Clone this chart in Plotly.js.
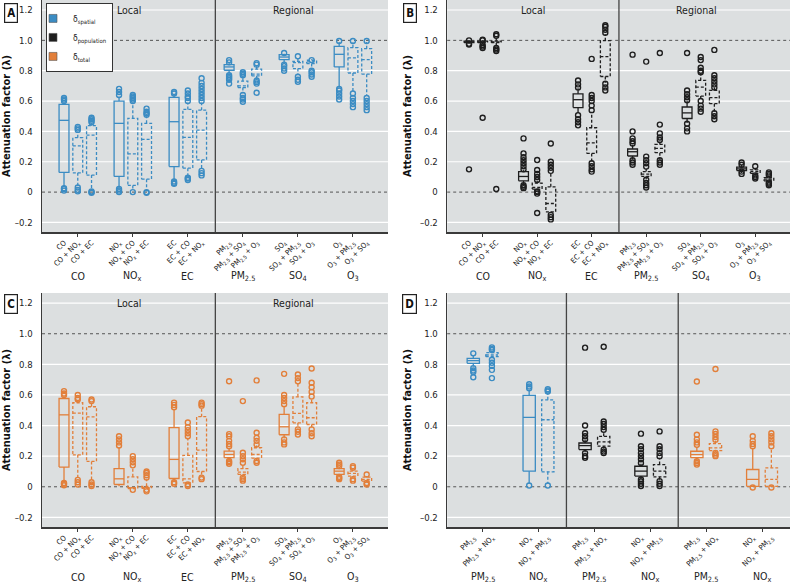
<!DOCTYPE html>
<html><head><meta charset="utf-8">
<script src="https://cdn.plot.ly/plotly-3.0.1.min.js"></script>
<style>html,body{margin:0;padding:0;background:#fff}#chart{width:800px;height:585px}</style>
</head><body><div id="chart"></div><script>
// ---------- DATA ----------
const boxLabels6 = ["CO","CO + NO<sub>x</sub>","CO + EC","NO<sub>x</sub>","NO<sub>x</sub> + CO","NO<sub>x</sub> + EC","EC","EC + CO","EC + NO<sub>x</sub>","PM<sub>2.5</sub>","PM<sub>2.5</sub> + SO<sub>4</sub>","PM<sub>2.5</sub> + O<sub>3</sub>","SO<sub>4</sub>","SO<sub>4</sub> + PM<sub>2.5</sub>","SO<sub>4</sub> + O<sub>3</sub>","O<sub>3</sub>","O<sub>3</sub> + PM<sub>2.5</sub>","O<sub>3</sub> + SO<sub>4</sub>"];
const groupLabels6 = ["CO","NO<sub>x</sub>","EC","PM<sub>2.5</sub>","SO<sub>4</sub>","O<sub>3</sub>"];
const boxLabelsD = ["PM<sub>2.5</sub>","PM<sub>2.5</sub> + NO<sub>x</sub>","NO<sub>x</sub>","NO<sub>x</sub> + PM<sub>2.5</sub>","PM<sub>2.5</sub>","PM<sub>2.5</sub> + NO<sub>x</sub>","NO<sub>x</sub>","NO<sub>x</sub> + PM<sub>2.5</sub>","PM<sub>2.5</sub>","PM<sub>2.5</sub> + NO<sub>x</sub>","NO<sub>x</sub>","NO<sub>x</sub> + PM<sub>2.5</sub>"];
const groupLabelsD = ["PM<sub>2.5</sub>","NO<sub>x</sub>","PM<sub>2.5</sub>","NO<sub>x</sub>","PM<sub>2.5</sub>","NO<sub>x</sub>"];
const legendNames = ["δ<sub>spatial</sub>","δ<sub>population</sub>","δ<sub>total</sub>"];
const yTicks = [-0.2,0,0.2,0.4,0.6,0.8,1.0,1.2];
const yTickText = ["–0.2","0","0.2","0.4","0.6","0.8","1.0","1.2"];

// Panel A (spatial)
const q1A  = [0.13,0.127,0.112, 0.103,0.044,0.085, 0.168,0.158,0.212, 0.803,0.689,0.766, 0.873,0.814,0.847, 0.825,0.785,0.777];
const medA = [0.473,0.304,0.376, 0.453,0.252,0.348, 0.464,0.361,0.409, 0.825,0.70,0.777, 0.89,0.853,0.858, 0.908,0.884,0.873];
const q3A  = [0.578,0.359,0.438, 0.60,0.486,0.453, 0.624,0.545,0.54, 0.84,0.731,0.81, 0.906,0.862,0.869, 0.96,0.952,0.945];
const loA  = [0.035,0.035,0.01, 0.025,0.01,0.005, 0.075,0.1,0.15, 0.78,0.65,0.745, 0.845,0.77,0.805, 0.69,0.66,0.64];
const hiA  = [0.59,0.40,0.45, 0.63,0.59,0.50, 0.645,0.59,0.59, 0.85,0.76,0.83, 0.912,0.88,0.875, 0.99,0.99,0.99];
const outA = [
 [0.6,0.61,0.62,0.01,0.02,0.025],[0.41,0.42,0.43,0.005,0.015,0.03],[0.46,0.47,0.48,0.49,-0.005,0.0,0.005],
 [0.64,0.66,0.68,0.0,0.01,0.02],[0.6,0.61,0.62,0.63,0.64,0.0],[0.51,0.52,0.53,0.55,-0.005,0.0],
 [0.65,0.66,0.055,0.06,0.07],[0.6,0.62,0.63,0.65,0.67,0.08,0.09,0.095],[0.6,0.62,0.64,0.66,0.68,0.7,0.72,0.75,0.11,0.125,0.14],
 [0.855,0.87,0.74,0.75,0.76,0.77,0.715],[0.77,0.78,0.79,0.595,0.61,0.62,0.64],[0.84,0.85,0.715,0.725,0.735,0.655],
 [0.917,0.8,0.815,0.83,0.84],[0.895,0.727,0.74,0.76],[0.87,0.76,0.775,0.79,0.8],
 [0.996,0.61,0.63,0.65,0.67,0.68],[0.996,0.56,0.58,0.6,0.62,0.65],[0.996,0.54,0.56,0.58,0.6,0.62]
];

// Panel B (population)
const q1B  = [0.985,0.985,0.985, 0.074,0.02,-0.13, 0.557,0.255,0.762, 0.238,0.103,0.26, 0.485,0.633,0.583, 0.142,0.124,0.074];
const medB = [0.99,0.99,0.99, 0.103,0.031,-0.075, 0.609,0.325,0.893, 0.266,0.118,0.288, 0.522,0.692,0.622, 0.153,0.135,0.085];
const q3B  = [0.995,0.995,0.995, 0.135,0.059,0.035, 0.648,0.424,0.998, 0.284,0.135,0.314, 0.561,0.736,0.67, 0.164,0.146,0.096];
const loB  = [0.978,0.975,0.965, 0.05,0.01,-0.14, 0.52,0.2,0.72, 0.215,0.085,0.215, 0.455,0.6,0.53, 0.125,0.11,0.065];
const hiB  = [1.0,1.0,1.02, 0.145,0.075,0.13, 0.685,0.53,1.04, 0.31,0.16,0.34, 0.6,0.78,0.69, 0.18,0.16,0.11];
const outB = [
 [0.972,0.978,1.0,0.15],[0.95,0.96,0.97,1.0,1.005,0.49],[0.93,0.94,0.95,1.03,1.04,0.02],
 [0.15,0.17,0.19,0.21,0.23,0.255,0.354,0.026,0.035,0.045],[0.08,0.1,0.12,0.146,0.212,-0.01,0.0,0.005,-0.138],[0.14,0.16,0.18,0.2,0.32,-0.15,-0.165,-0.18],
 [0.69,0.71,0.735,0.44,0.46,0.48,0.507],[0.54,0.57,0.6,0.62,0.64,0.878,0.135,0.15,0.17,0.19],[1.05,1.07,1.09,1.1,0.67,0.69,0.714],
 [0.32,0.335,0.354,0.4,0.906,0.18,0.195,0.21],[0.168,0.19,0.21,0.234,0.86,0.03,0.045,0.06,0.081],[0.343,0.36,0.387,0.445,0.917,0.18,0.195,0.21],
 [0.605,0.625,0.645,0.67,0.917,0.4,0.42,0.45],[0.79,0.8,0.82,0.87,0.89,0.53,0.55,0.57,0.6],[0.69,0.71,0.73,0.75,0.77,0.937,0.48,0.5,0.52],
 [0.18,0.195,0.12,0.135],[0.17,0.09,0.1,0.11],[0.11,0.12,0.13,0.045,0.055,0.063]
];

// Panel C (total)
const q1C  = [0.129,0.209,0.166, 0.015,-0.012,-0.01, 0.054,0.026,0.1, 0.19,0.081,0.187, 0.34,0.418,0.407, 0.081,0.07,0.037];
const medC = [0.47,0.481,0.457, 0.052,-0.005,-0.005, 0.179,0.052,0.24, 0.211,0.096,0.211, 0.392,0.479,0.451, 0.102,0.087,0.048];
const q3C  = [0.577,0.549,0.523, 0.118,0.065,0.003, 0.386,0.205,0.458, 0.233,0.118,0.255, 0.473,0.588,0.549, 0.118,0.102,0.063];
const loC  = [0.03,0.05,0.035, 0.003,-0.015,-0.012, 0.035,0.02,0.065, 0.17,0.065,0.175, 0.315,0.38,0.38, 0.07,0.055,0.03];
const hiC  = [0.59,0.565,0.55, 0.26,0.13,0.05, 0.51,0.32,0.52, 0.255,0.15,0.27, 0.53,0.68,0.58, 0.13,0.12,0.07];
const outC = [
 [0.6,0.61,0.625,0.01,0.02,0.025],[0.57,0.58,0.6,0.015,0.03,0.045],[0.56,0.57,0.005,0.015,0.03],
 [0.27,0.29,0.31,0.33],[0.14,0.16,0.18,0.2,-0.02],[0.06,0.075,0.09,0.1,-0.02,-0.03],
 [0.52,0.535,0.55,0.02,0.03],[0.33,0.35,0.37,0.39,0.42,0.005,0.015],[0.53,0.54,0.55,0.05,0.06],
 [0.265,0.28,0.3,0.33,0.344,0.69,0.15,0.16,0.168],[0.157,0.18,0.2,0.222,0.56,0.04,0.05,0.06],[0.277,0.3,0.32,0.353,0.695,0.157,0.168],
 [0.54,0.56,0.58,0.6,0.738,0.277,0.29,0.31],[0.69,0.71,0.734,0.342,0.36,0.375],[0.59,0.62,0.65,0.68,0.773,0.33,0.35,0.375],
 [0.135,0.145,0.157,0.05,0.058,0.065],[0.125,0.135,0.04,0.05],[0.08,0.015,0.025]
];

// Panel D (spatial | population | total, PM2.5 & NOx)
const q1D  = [0.807,0.85,0.102,0.098, 0.243,0.265,0.07,0.065, 0.19,0.236,0.003,0.003];
const medD = [0.824,0.861,0.453,0.438, 0.269,0.293,0.102,0.102, 0.21,0.254,0.048,0.048];
const q3D  = [0.839,0.876,0.597,0.568, 0.286,0.33,0.134,0.145, 0.232,0.282,0.113,0.124];
const loD  = [0.785,0.84,0.02,0.02, 0.225,0.25,0.05,0.04, 0.175,0.225,0.0,0.0];
const hiD  = [0.86,0.89,0.63,0.615, 0.305,0.36,0.15,0.19, 0.26,0.3,0.25,0.255];
const outD = [
 [0.872,0.75,0.76,0.775,0.716],[0.894,0.9,0.911,0.764,0.79,0.81,0.83,0.71],[0.644,0.655,0.67,0.008],[0.623,0.63,0.638,0.008],
 [0.31,0.33,0.35,0.4,0.909,0.19,0.2,0.22],[0.373,0.39,0.41,0.427,0.915,0.22,0.23,0.243],[0.156,0.18,0.2,0.22,0.245,0.265,0.347,0.005,0.02,0.035,0.048],[0.2,0.22,0.245,0.265,0.362,0.005,0.02,0.037],
 [0.275,0.29,0.31,0.34,0.688,0.145,0.155,0.167],[0.308,0.325,0.345,0.362,0.77,0.2,0.21,0.221],[0.265,0.28,0.3,0.33,-0.005],[0.265,0.29,0.31,0.33,0.35,-0.005]
];

// ---------- STYLE ----------
const FONT = "'Liberation Sans Narrow','DejaVu Sans Condensed','Arial Narrow',sans-serif";
const BLUE = '#3b8cc3', BLACK = '#1e1e1e', ORANGE = '#e27f3a';
const seriesColors = [BLUE, BLACK, ORANGE];
const BG = '#dcdfe0', AXC = '#3a3a3a';

const pos6 = boxLabels6.map((_, i) => Math.floor(i / 3) * 4 + (i % 3));
const grp6 = groupLabels6.map((_, g) => g * 4 + 1);
const posD = boxLabelsD.map((_, i) => Math.floor(i / 2) * 3 + (i % 2));
const grpD = groupLabelsD.map((_, g) => g * 3 + 0.5);
const range6 = [-1.6, 23.55], rangeD = [-1.4, 17.0];
const yRange = [-0.263, 1.266];

const traces = [];
function addPanel(xa, ya, pos, q1, med, q3, lo, hi, outs, colorOf, dashOf, hw) {
  const groups = {};
  pos.forEach((x, i) => {
    const c = colorOf(i), d = dashOf(i), key = c + d;
    if (!groups[key]) groups[key] = {x: [], y: [], c, d};
    const g = groups[key];
    g.x.push(x-hw, x+hw, x+hw, x-hw, x-hw, null, x-hw, x+hw, null, x, x, null, x, x, null);
    g.y.push(q1[i], q1[i], q3[i], q3[i], q1[i], null, med[i], med[i], null, q3[i], hi[i], null, q1[i], lo[i], null);
  });
  Object.values(groups).forEach(g => traces.push({
    type: 'scatter', mode: 'lines', x: g.x, y: g.y, xaxis: xa, yaxis: ya,
    line: {color: g.c, width: 1.3, dash: g.d ? '3px,2px' : 'solid'}, hoverinfo: 'skip', showlegend: false
  }));
  const om = {};
  pos.forEach((x, i) => {
    const c = colorOf(i);
    if (!om[c]) om[c] = {x: [], y: []};
    outs[i].forEach(v => { om[c].x.push(x); om[c].y.push(v); });
  });
  Object.entries(om).forEach(([c, o]) => traces.push({
    type: 'scatter', mode: 'markers', x: o.x, y: o.y, xaxis: xa, yaxis: ya,
    marker: {symbol: 'circle-open', size: 5, color: c, line: {width: 1.4, color: c}},
    hoverinfo: 'skip', showlegend: false
  }));
}
addPanel('x', 'y', pos6, q1A, medA, q3A, loA, hiA, outA, () => BLUE, i => i % 3 !== 0, 0.36);
addPanel('x2', 'y2', pos6, q1B, medB, q3B, loB, hiB, outB, () => BLACK, i => i % 3 !== 0, 0.36);
addPanel('x3', 'y3', pos6, q1C, medC, q3C, loC, hiC, outC, () => ORANGE, i => i % 3 !== 0, 0.36);
addPanel('x4', 'y4', posD, q1D, medD, q3D, loD, hiD, outD, i => seriesColors[Math.floor(i / 4)], i => i % 2 !== 0, 0.33);

legendNames.forEach((n, k) => traces.push({
  type: 'scatter', mode: 'markers', x: [null], y: [null], xaxis: 'x', yaxis: 'y', name: n,
  marker: {symbol: 'square', size: 8, color: seriesColors[k], line: {width: 0.6, color: '#555'}}
}));
['x5','x6','x7','x8'].forEach((xa, k) => traces.push({type: 'scatter', x: [], y: [], xaxis: xa, yaxis: ['y','y2','y3','y4'][k], showlegend: false, hoverinfo: 'skip'}));

const domX = [[0.0525, 0.485], [0.559, 0.9875]];
const domY = [[0.6034, 1.0], [0.0991, 0.4991]];

function xAxis(dom, range, pos, labels) {
  return {domain: dom, range, tickmode: 'array', tickvals: pos, ticktext: labels, tickangle: -45,
    ticks: '', showgrid: false, zeroline: false, showline: true, linecolor: AXC, linewidth: 1.5,
    ticklabelstandoff: 2, tickfont: {family: FONT, size: 7.5, color: '#222'}, fixedrange: true};
}
function xOver(anchorX, anchorY, range, grp) {
  return {overlaying: anchorX, anchor: anchorY, side: 'bottom', range, tickmode: 'array', tickvals: grp,
    ticks: 'outside', ticklen: 4, tickwidth: 1, tickcolor: AXC, showticklabels: false, showgrid: false,
    zeroline: false, showline: false};
}
function yAxis(dom, anchor) {
  return {domain: dom, anchor, range: yRange, tickmode: 'array', tickvals: yTicks, ticktext: yTickText,
    ticks: '', showgrid: false, zeroline: false, showline: true, linecolor: AXC, linewidth: 1.5,
    ticklabelstandoff: 6, tickfont: {family: FONT, size: 9.5, color: '#222'},
    title: {text: '<b>Attenuation factor (λ)</b>', font: {family: FONT, size: 11, color: '#111'}, standoff: 6}};
}

const layout = {
  width: 800, height: 585, margin: {l: 0, r: 0, t: 0, b: 0}, paper_bgcolor: '#fff', plot_bgcolor: BG,
  font: {family: FONT, color: '#222'},
  xaxis: Object.assign(xAxis(domX[0], range6, pos6, boxLabels6), {anchor: 'y'}),
  xaxis2: Object.assign(xAxis(domX[1], range6, pos6, boxLabels6), {anchor: 'y2'}),
  xaxis3: Object.assign(xAxis(domX[0], range6, pos6, boxLabels6), {anchor: 'y3'}),
  xaxis4: Object.assign(xAxis(domX[1], rangeD, posD, boxLabelsD), {anchor: 'y4'}),
  xaxis5: xOver('x', 'y', range6, grp6),
  xaxis6: xOver('x2', 'y2', range6, grp6),
  xaxis7: xOver('x3', 'y3', range6, grp6),
  xaxis8: xOver('x4', 'y4', rangeD, grpD),
  yaxis: yAxis(domY[0], 'x'),
  yaxis2: yAxis(domY[0], 'x2'),
  yaxis3: yAxis(domY[1], 'x3'),
  yaxis4: yAxis(domY[1], 'x4'),
  showlegend: true,
  legend: {x: 0.0575, y: 0.995, xanchor: 'left', yanchor: 'top', bgcolor: '#fff', bordercolor: '#333', borderwidth: 1,
    font: {family: FONT, size: 8.5, color: '#222'}, itemwidth: 30, tracegroupgap: 0, indentation: -14},
  shapes: [], annotations: []
};

const panels = [
  {x: 'x', y: 'y', range: range6, div: [11], lr: true, grp: grp6, gl: groupLabels6, shift: -44},
  {x: 'x2', y: 'y2', range: range6, div: [11], lr: true, grp: grp6, gl: groupLabels6, shift: -44},
  {x: 'x3', y: 'y3', range: range6, div: [11], lr: true, grp: grp6, gl: groupLabels6, shift: -50},
  {x: 'x4', y: 'y4', range: rangeD, div: [5, 11], lr: false, grp: grpD, gl: groupLabelsD, shift: -50}
];
const letters = ['A', 'B', 'C', 'D'];
const letterPos = [[11, 13], [410, 13], [11, 304], [410, 304]];
panels.forEach((p, k) => {
  yTicks.forEach(v => {
    const ref = (v === 0 || v === 1.0);
    layout.shapes.push({type: 'line', layer: 'below', xref: p.x + ' domain', yref: p.y, x0: 0, x1: 1, y0: v, y1: v,
      line: {color: ref ? '#555' : '#ffffff', width: ref ? 1 : 1.2, dash: ref ? 'dot' : 'solid'}});
  });
  p.div.forEach(d => layout.shapes.push({type: 'line', layer: 'below', xref: p.x, yref: p.y + ' domain', x0: d, x1: d, y0: 0, y1: 1,
    line: {color: '#444', width: 1.3}}));
  p.grp.forEach((g, j) => layout.annotations.push({xref: p.x, yref: p.y + ' domain', x: g, y: 0, yshift: p.shift,
    yanchor: 'middle', xanchor: 'center', showarrow: false, text: p.gl[j], font: {family: FONT, size: 10.5, color: '#222'}}));
  if (p.lr) {
    const d = p.div[0];
    layout.annotations.push({xref: p.x, yref: p.y, x: (p.range[0] + d) / 2, y: 1.2, showarrow: false, text: 'Local',
      font: {family: FONT, size: 10.5, color: '#222'}});
    layout.annotations.push({xref: p.x, yref: p.y, x: (d + p.range[1]) / 2 - 0.6, y: 1.2, showarrow: false, text: 'Regional',
      font: {family: FONT, size: 10.5, color: '#222'}});
  }
  layout.annotations.push({xref: 'paper', yref: 'paper', x: letterPos[k][0] / 800, y: 1 - letterPos[k][1] / 585,
    xanchor: 'center', yanchor: 'middle', showarrow: false, text: '<b>' + letters[k] + '</b>',
    font: {family: FONT, size: 11.5, color: '#111'}, bgcolor: '#fff', bordercolor: '#222', borderwidth: 1.2, borderpad: 2});
});

Plotly.newPlot('chart', traces, layout, {staticPlot: true});
</script></body></html>
